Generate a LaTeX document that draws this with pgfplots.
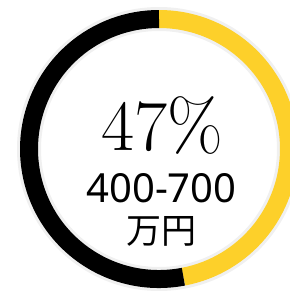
\documentclass[border=0pt]{standalone}
\usepackage{pgfplots}
\usepackage{pgfplotstable}
\pgfplotsset{compat=1.18}
\usepackage{fontspec}
\newfontfamily\numfont{Noto Sans}
\newfontfamily\cjk{Noto Sans CJK JP}
\definecolor{ringyellow}{HTML}{FDD02A}
\pgfplotstableread{
label value
yes 47
no 53
}\donutdata
\begin{document}
\begin{tikzpicture}
\pgfplotstablegetelem{0}{value}\of\donutdata
\pgfmathsetmacro{\va}{\pgfplotsretval}
\pgfplotstablegetelem{1}{value}\of\donutdata
\pgfmathsetmacro{\vb}{\pgfplotsretval}
\pgfmathsetmacro{\enda}{90-3.6*\va}
\pgfmathsetmacro{\endb}{\enda-3.6*\vb}
\begin{axis}[x=1pt,y=1pt,xmin=0,xmax=290,ymin=0,ymax=293,hide axis,clip=true]
% faint shadow
\draw[black!40,opacity=0.15,line width=24pt] (axis cs:159,144) circle[radius=130pt];
\draw[ringyellow,line width=18pt] (axis cs:159,144) ++(90:130pt) arc[start angle=90,end angle=\enda,radius=130pt];
\draw[black,line width=18pt] (axis cs:159,144) ++(\enda:130pt) arc[start angle=\enda,end angle=\endb,radius=130pt];
\node[anchor=base,inner sep=0pt,font=\fontsize{72}{72}\selectfont] at (axis cs:162.5,143) {47\%};
\node[anchor=base,inner sep=0pt,font=\numfont\fontsize{40}{40}\selectfont] at (axis cs:161.5,91) {400-700};
\node[anchor=base,inner sep=0pt,font=\cjk\fontsize{35}{35}\selectfont] at (axis cs:161.5,49) {万円};
\end{axis}
\pgfresetboundingbox
\useasboundingbox (0,0) rectangle (290pt,293pt);
\end{tikzpicture}
\end{document}
